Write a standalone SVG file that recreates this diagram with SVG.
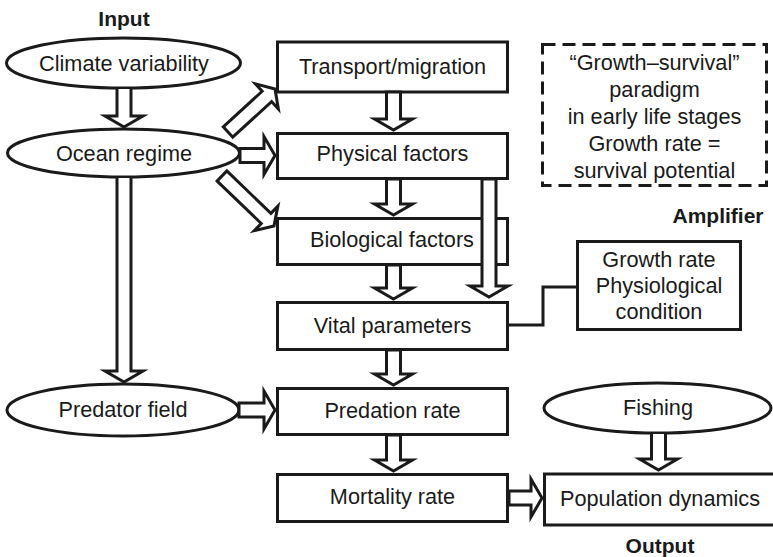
<svg xmlns="http://www.w3.org/2000/svg" width="773" height="557" viewBox="0 0 773 557">
<style>
.n{fill:#fff;stroke:#1a1a1a;stroke-width:3}
.d{fill:#fff;stroke:#1a1a1a;stroke-width:3;stroke-dasharray:13 7}
.t{font-family:"Liberation Sans",Arial,sans-serif;font-size:21.7px;fill:#1a1a1a;text-anchor:middle}
.b{font-family:"Liberation Sans",Arial,sans-serif;font-size:21px;font-weight:bold;fill:#1a1a1a;text-anchor:middle}
.a{fill:#fff;stroke:#1a1a1a;stroke-width:3;stroke-linejoin:miter}
.l{fill:none;stroke:#1a1a1a;stroke-width:3}
</style>
<rect width="773" height="557" fill="#fff"/>
<g id="labels">
<text class="b" x="124" y="26">Input</text>
<text class="b" x="718" y="223">Amplifier</text>
<text class="b" x="660" y="553">Output</text>
</g>
<g id="climate"><ellipse class="n" cx="123.5" cy="63" rx="117" ry="25"/><text class="t" x="124" y="71">Climate variability</text></g>
<g id="ocean"><ellipse class="n" cx="123.5" cy="153" rx="116" ry="24"/><text class="t" x="124" y="161">Ocean regime</text></g>
<g id="predator"><ellipse class="n" cx="123" cy="410" rx="116" ry="26"/><text class="t" x="123" y="417">Predator field</text></g>
<g id="fishing"><ellipse class="n" cx="657.5" cy="408" rx="113.5" ry="25"/><text class="t" x="658" y="415">Fishing</text></g>
<g id="transport"><rect class="n" x="277.5" y="42" width="230" height="50"/><text class="t" x="392.5" y="74">Transport/migration</text></g>
<g id="physical"><rect class="n" x="277.5" y="133.5" width="230" height="45"/><text class="t" x="392.5" y="161">Physical factors</text></g>
<g id="biological"><rect class="n" x="277.5" y="218.5" width="230" height="46"/><text class="t" x="392" y="247">Biological factors</text></g>
<g id="vital"><rect class="n" x="277.5" y="302.5" width="230" height="47"/><text class="t" x="392.5" y="333">Vital parameters</text></g>
<g id="predation"><rect class="n" x="277.5" y="388.5" width="230" height="46"/><text class="t" x="392.5" y="418">Predation rate</text></g>
<g id="mortality"><rect class="n" x="277.5" y="474.5" width="230" height="47"/><text class="t" x="392.5" y="504">Mortality rate</text></g>
<g id="population"><rect class="n" x="544.5" y="474" width="240" height="51"/><text class="t" x="660" y="506">Population dynamics</text></g>
<g id="growth"><rect class="n" x="577.5" y="241.5" width="163" height="88"/><text class="t" x="659" y="267">Growth rate</text><text class="t" x="659" y="293">Physiological</text><text class="t" x="659" y="319">condition</text></g>
<g id="paradigm"><rect class="d" x="542.5" y="44.5" width="224" height="141"/>
<text class="t" x="654.5" y="70">“Growth–survival”</text>
<text class="t" x="654.5" y="97">paradigm</text>
<text class="t" x="654.5" y="124">in early life stages</text>
<text class="t" x="654.5" y="151">Growth rate =</text>
<text class="t" x="654.5" y="178">survival potential</text></g>
<g id="connectors">
<path class="a" d="M117,89 V116 H105 L124,127 L143,116 H131 V89"/>
<path class="a" d="M386.5,92 V119 H374.5 L393.5,130 L412.5,119 H400.5 V92 Z"/>
<path class="a" d="M386.5,179 V204 H374.5 L393.5,215 L412.5,204 H400.5 V179 Z"/>
<path class="a" d="M386.5,265 V288 H374.5 L393.5,299 L412.5,288 H400.5 V265 Z"/>
<path class="a" d="M482,179 V286 H470 L489,297 L508,286 H496 V179 Z"/>
<path class="a" d="M386.5,350 V374 H374.5 L393.5,385 L412.5,374 H400.5 V350 Z"/>
<path class="a" d="M386.5,435 V460 H374.5 L393.5,471 L412.5,460 H400.5 V435 Z"/>
<path class="a" d="M117,178 V371 H105 L124,382 L143,371 H131 V178"/>
<path class="a" d="M651.5,434 V459 H639.5 L658.5,470 L677.5,459 H665.5 V434"/>
<path class="a" d="M240,148.5 H264 V136.5 L275,155.5 L264,174.5 V162.5 H240 Z"/>
<path class="a" d="M239,403 H264 V391 L275,410 L264,429 V417 H239 Z"/>
<path class="a" d="M509,491 H531 V479 L542,498 L531,517 V505 H509 Z"/>
<path class="a" d="M232.73,137.16 L271.61,101.59 L278.36,108.97 L275,89 L255.41,83.89 L262.16,91.27 L223.28,126.84 Z"/>
<path class="a" d="M217.15,181.05 L261.22,223.43 L254.29,230.63 L274,226 L277.85,206.13 L270.92,213.33 L226.85,170.95 Z"/>
<polyline class="l" points="509,325 543,325 543,287 577,287"/>
</g>
</svg>
